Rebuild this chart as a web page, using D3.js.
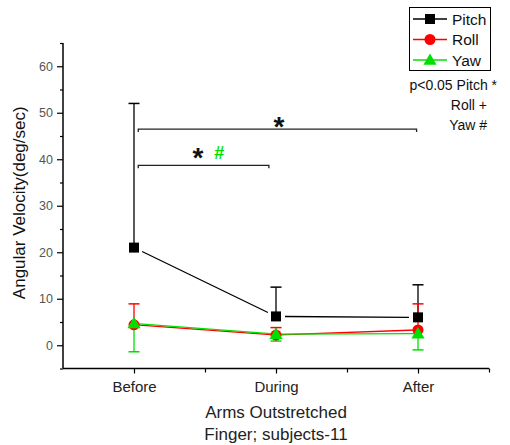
<!doctype html>
<html>
<head>
<script src="https://cdnjs.cloudflare.com/ajax/libs/d3/7.8.5/d3.min.js"></script>
<style>
  body { margin: 0; background: #fff; }
  text { font-family: Arial, "Liberation Sans", sans-serif; }
</style>
</head>
<body>
<svg id="chart" width="510" height="445"></svg>
<script>
// values
var categories = ["Before", "During", "After"];
var pitch    = [21.0, 6.2, 6.0];
var pitchErr = [31.0, 6.3, 7.0];   // drawn upward
var roll     = [4.4, 2.2, 3.3];
var rollErr  = [4.5, 1.6, 5.6];    // drawn upward
var yaw      = [4.7, 2.4, 2.5];
var yawErr   = [6.1, 1.5, 3.5];    // drawn downward
var yTicks   = [0, 10, 20, 30, 40, 50, 60];

// significance brackets, in data units (x = category position, y = value)
var brackets = [
  {x1: 1.03, x2: 2.99, y: 46.5},
  {x1: 1.03, x2: 1.95, y: 38.7}
];

var svg = d3.select("#chart");

var x = d3.scaleLinear().domain([0.5, 3.5]).range([63, 489]);
var y = d3.scaleLinear().domain([-5, 65]).range([368.5, 43]);

// y axis
var yAxis = d3.axisLeft(y).tickValues(yTicks).tickSize(6).tickPadding(4);
var gy = svg.append("g").attr("transform", "translate(63,0)").call(yAxis);
gy.select(".domain").attr("stroke-width", 1.5).attr("d", "M0," + y(65) + "V" + y(-5));
gy.selectAll(".tick line").attr("stroke-width", 1.2);
gy.selectAll(".tick text").attr("font-size", 12.5).attr("fill", "#555")
  .attr("font-family", "Arial, 'Liberation Sans', sans-serif");
svg.append("g").attr("transform", "translate(63,0)")
  .call(d3.axisLeft(y).tickValues([-5, 5, 15, 25, 35, 45, 55, 65]).tickSize(3).tickFormat(""))
  .call(g => g.select(".domain").remove())
  .selectAll("line").attr("stroke-width", 1.2);

// x axis
var xAxis = d3.axisBottom(x).tickValues([1, 2, 3]).tickFormat((d, i) => categories[i])
  .tickSize(5).tickPadding(8);
var gx = svg.append("g").attr("transform", "translate(0," + y(-5) + ")").call(xAxis);
gx.select(".domain").attr("stroke-width", 1.5).attr("d", "M" + x(0.5) + ",0H" + x(3.5));
gx.selectAll(".tick line").attr("stroke-width", 1.2);
gx.selectAll(".tick text").attr("font-size", 15).attr("fill", "#222")
  .attr("font-family", "Arial, 'Liberation Sans', sans-serif");
svg.append("g").attr("transform", "translate(0," + y(-5) + ")")
  .call(d3.axisBottom(x).tickValues([1.5, 2.5, 3.5]).tickSize(4).tickFormat(""))
  .call(g => g.select(".domain").remove())
  .selectAll("line").attr("stroke-width", 1.2);

// axis titles
svg.append("text").attr("transform", "translate(25," + (y(30) - 3) + ") rotate(-90)")
  .attr("text-anchor", "middle").attr("font-size", 17).attr("fill", "#111")
  .text("Angular Velocity(deg/sec)");
svg.append("text").attr("x", x(2)).attr("y", 418).attr("text-anchor", "middle")
  .attr("font-size", 17).attr("fill", "#222").text("Arms Outstretched");
svg.append("text").attr("x", x(2)).attr("y", 440).attr("text-anchor", "middle")
  .attr("font-size", 17).attr("fill", "#222").text("Finger; subjects-11");

var series = [
  {name: "Pitch", vals: pitch, err: pitchErr, dir: 1, color: "#000", shape: "square"},
  {name: "Roll", vals: roll, err: rollErr, dir: 1, color: "#ff0000", shape: "circle"},
  {name: "Yaw", vals: yaw, err: yawErr, dir: -1, color: "#00e000", shape: "triangle"}
];

function marker(g, shape, color) {
  if (shape === "square") {
    g.append("rect").attr("x", -5).attr("y", -5).attr("width", 10).attr("height", 10).attr("fill", color);
  } else if (shape === "circle") {
    g.append("circle").attr("r", 5.5).attr("fill", color);
  } else {
    g.append("path").attr("d", d3.symbol(d3.symbolTriangle, 75)()).attr("transform", "translate(0,1)")
      .attr("fill", color);
  }
}

series.forEach(function(s) {
  var pts = s.vals.map((v, i) => [x(i + 1), y(v)]);
  var g = svg.append("g");
  // connecting lines, shortened so they stop short of the markers
  for (var i = 0; i < pts.length - 1; i++) {
    var a = pts[i], b = pts[i + 1];
    var dx = b[0] - a[0], dy = b[1] - a[1], len = Math.sqrt(dx * dx + dy * dy);
    var gap = s.shape === "square" ? 9 : 2;
    g.append("line")
      .attr("x1", a[0] + dx / len * gap).attr("y1", a[1] + dy / len * gap)
      .attr("x2", b[0] - dx / len * gap).attr("y2", b[1] - dy / len * gap)
      .attr("stroke", s.color).attr("stroke-width", 1.3);
  }
  // error bars
  s.vals.forEach(function(v, i) {
    var cx = x(i + 1), y0 = y(v), y1 = y(v + s.dir * s.err[i]);
    g.append("line").attr("x1", cx).attr("x2", cx).attr("y1", y0).attr("y2", y1)
      .attr("stroke", s.color).attr("stroke-width", 1.3);
    g.append("line").attr("x1", cx - 5.5).attr("x2", cx + 5.5).attr("y1", y1).attr("y2", y1)
      .attr("stroke", s.color).attr("stroke-width", 1.5);
  });
});
// markers on top
series.forEach(function(s) {
  s.vals.forEach(function(v, i) {
    var g = svg.append("g").attr("transform", "translate(" + x(i + 1) + "," + y(v) + ")");
    marker(g, s.shape, s.color);
  });
});

// significance brackets
brackets.forEach(function(b) {
  svg.append("path")
    .attr("d", "M" + x(b.x1) + "," + (y(b.y) + 3) + "V" + y(b.y) + "H" + x(b.x2) + "V" + (y(b.y) + 3))
    .attr("fill", "none").attr("stroke", "#222").attr("stroke-width", 1.3);
});
svg.append("text").attr("x", x(2.02)).attr("y", y(46.5) + 7).attr("text-anchor", "middle")
  .attr("font-size", 28).attr("font-weight", "bold").attr("fill", "#111").text("*");
svg.append("text").attr("x", x(1.45)).attr("y", y(38.7) + 2).attr("text-anchor", "middle")
  .attr("font-size", 28).attr("font-weight", "bold").attr("fill", "#111").text("*");
svg.append("text").attr("x", x(1.6)).attr("y", y(38.7) - 6).attr("text-anchor", "middle")
  .attr("font-size", 18).attr("font-weight", "bold").attr("fill", "#00e000").text("#");

// p-value note
var notes = ["p<0.05 Pitch *", "Roll +", "Yaw #"];
var noteRight = [497, 487, 487];
notes.forEach(function(t, i) {
  svg.append("text").attr("x", noteRight[i]).attr("y", 90 + i * 20).attr("text-anchor", "end")
    .attr("font-size", 14).attr("fill", "#111").text(t);
});

// legend
var lg = svg.append("g");
lg.append("rect").attr("x", 409.5).attr("y", 7.5).attr("width", 81).attr("height", 63)
  .attr("fill", "#fff").attr("stroke", "#000").attr("stroke-width", 1);
series.forEach(function(s, i) {
  var ly = 19 + i * 20.5;
  lg.append("line").attr("x1", 413).attr("x2", 447).attr("y1", ly).attr("y2", ly)
    .attr("stroke", s.color).attr("stroke-width", 1.3);
  var m = lg.append("g").attr("transform", "translate(430," + ly + ")");
  marker(m, s.shape, s.color);
  lg.append("text").attr("x", 452).attr("y", ly + 5.5).attr("font-size", 15.5).attr("fill", "#111").text(s.name);
});
</script>
</body>
</html>
